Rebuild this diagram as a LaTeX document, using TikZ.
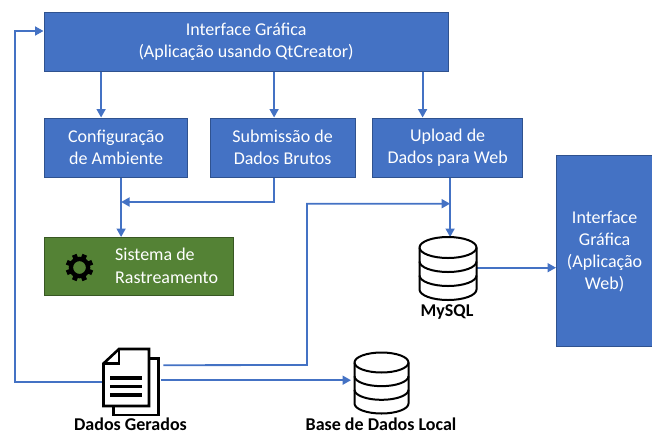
\documentclass[tikz,border=0pt]{standalone}
\usepackage{fontspec}
\setmainfont{Carlito}
\usetikzlibrary{arrows.meta,calc}
\definecolor{bluefill}{HTML}{4472C4}
\definecolor{blueedge}{HTML}{2F528F}
\definecolor{greenfill}{HTML}{548235}
\definecolor{greenedge}{HTML}{385723}
\tikzset{
  x=1pt,y=-1pt,
  bluebox/.style={draw=blueedge,fill=bluefill,line width=1.2pt,text=white,align=center,inner sep=0pt,font=\fontsize{18}{22}\selectfont,anchor=north west},
  greenbox/.style={draw=greenedge,fill=greenfill,line width=1.2pt,anchor=north west,inner sep=0pt},
  conn/.style={draw=bluefill,line width=1.8pt,-{Triangle[length=8.5pt,width=9pt]}},
  iconbox/.style={inner sep=0pt,anchor=north west},
  caption/.style={font=\bfseries\fontsize{18}{20}\selectfont,inner sep=0pt},
  iconline/.style={draw=black,line width=2pt,line join=round},
  docline/.style={draw=black,line width=2.6pt,line join=miter},
}
\newcommand{\cyl}[5]{% x0 y0 width ry body
  \draw[iconline,fill=white] (#1,#2+#4) arc[start angle=180,end angle=0,x radius=#3/2*1pt,y radius=#4*1pt]
     -- (#1+#3,#2+#4+#5) arc[start angle=0,end angle=-180,x radius=#3/2*1pt,y radius=#4*1pt] -- cycle;
  \draw[iconline] (#1,#2+#4) arc[start angle=180,end angle=360,x radius=#3/2*1pt,y radius=#4*1pt];
  \draw[iconline] (#1,#2+#4+#5/3) arc[start angle=180,end angle=360,x radius=#3/2*1pt,y radius=#4*1pt];
  \draw[iconline] (#1,#2+#4+2*#5/3) arc[start angle=180,end angle=360,x radius=#3/2*1pt,y radius=#4*1pt];
}
\begin{document}
\begin{tikzpicture}
\useasboundingbox (0,0) rectangle (652,434);
% boxes
\node[bluebox,minimum width=404pt,minimum height=59pt] (top) at (43.5,12) {Interface Gráfica\\(Aplicação usando QtCreator)};
\node[bluebox,minimum width=143pt,minimum height=59pt] (cfg) at (44,117.5) {Configuração\\de Ambiente};
\node[bluebox,minimum width=145pt,minimum height=59pt] (sub) at (209.5,117.5) {Submissão de\\Dados Brutos};
\node[bluebox,minimum width=150pt,minimum height=59pt] (upl) at (372,117.5) {Upload de\\Dados para Web};
\node[bluebox,minimum width=96pt,minimum height=191pt] (web) at (556,155) {Interface\\Gráfica\\(Aplicação\\Web)};
\node[greenbox,minimum width=189.5pt,minimum height=58pt] (sis) at (43.5,237) {};
\node[anchor=west,inner sep=0pt,align=left,text=white,font=\fontsize{18}{23}\selectfont] (sistxt) at (115,266) {Sistema de\\Rastreamento};
% gear
\node[inner sep=0pt,minimum size=28pt,circle] (gear) at (79.5,267.5) {};
\fill[black,even odd rule] (gear.center) circle[radius=10.8pt] (gear.center) circle[radius=6.4pt];
\foreach \a in {22.5,67.5,...,337.5}{
  \fill[black] ($(gear.center)+(\a-15:9.5pt)$) -- ($(gear.center)+(\a-10:14pt)$) -- ($(gear.center)+(\a+10:14pt)$) -- ($(gear.center)+(\a+15:9.5pt)$) -- cycle;
}
% icon frames
\node[iconbox,minimum width=58pt,minimum height=69pt] (doc) at (102,348) {};
\node[iconbox,minimum width=58pt,minimum height=63pt] (mysql) at (419,237) {};
\node[iconbox,minimum width=55pt,minimum height=61pt] (local) at (354,352) {};
% connectors
\draw[conn] ([xshift=-15pt]cfg.north |- top.south) -- ([xshift=-15pt]cfg.north);
\draw[conn] ([xshift=-8.5pt]sub.north |- top.south) -- ([xshift=-8.5pt]sub.north);
\draw[conn] ([xshift=-25pt]upl.north |- top.south) -- ([xshift=-25pt]upl.north);
\draw[conn] ([xshift=5pt]cfg.south) -- ([xshift=5pt]cfg.south |- sis.north);
\coordinate (join1) at ([xshift=5pt,yshift=35pt]cfg.south |- sis.north);
\coordinate (join1a) at ([xshift=-8.5pt]sub.south);
\draw[conn] (join1a) |- (join1);
\draw[conn] ([xshift=2.5pt]upl.south) -- ([xshift=2.5pt]upl.south |- mysql.north);
\coordinate (join2) at ([xshift=2.5pt,yshift=-26pt]upl.south);
\coordinate (bendA) at (307,365);
\draw[conn] ($(doc.east)+(3,-17.5)$) -- (bendA) |- (join2);
\draw[conn] ($(doc.east)+(1,-2.5)$) -- ($(local.west)+(-3,-2.5)$);
\draw[conn] ([yshift=1pt]mysql.east) -- ([yshift=1pt]mysql.east -| web.west);
\coordinate (bendB) at (15,382);
\coordinate (bendC) at (15,31);
\draw[conn] (doc.west |- bendB) -- (bendB) -- (bendC) -- (bendC -| top.west);
% document icon
\draw[docline] (149,358.5) -- (158.5,358.5) -- (158.5,415) -- (113.5,415) -- (113.5,406);
\draw[docline,fill=white] (119,349) -- (149,349) -- (149,406) -- (103.5,406) -- (103.5,363.5) -- cycle;
\draw[docline] (103.5,363.5) -- (119,363.5) -- (119,349);
\foreach \yy in {378,386.5,395}{\fill[black] (110,\yy-1.8) rectangle (141.5,\yy+1.8);}
% database icons
\cyl{419.5}{237}{57}{10.5}{42}
\cyl{354.5}{352.5}{54}{10}{41}
% captions
\node[caption] (mysqlcap) at (447,312) {MySQL};
\node[caption] (localcap) at (381,424.5) {Base de Dados Local};
\node[caption] (doccap) at (130.5,424.5) {Dados Gerados};
\end{tikzpicture}
\end{document}
